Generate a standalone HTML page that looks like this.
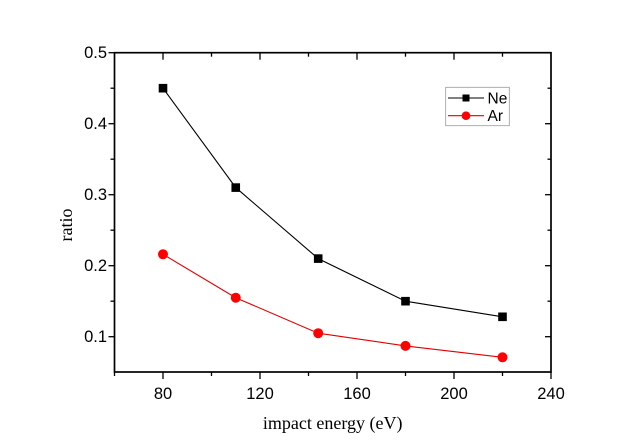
<!DOCTYPE html>
<html>
<head>
<meta charset="utf-8">
<style>
html,body{margin:0;padding:0;background:#fff;}
svg{display:block;}
.tl{font-family:"Liberation Sans",Arial,sans-serif;font-size:16.5px;fill:#000;}
.tt{font-family:"Liberation Serif","Times New Roman",serif;font-size:18px;fill:#000;}
</style>
</head>
<body>
<svg width="640" height="447" viewBox="0 0 640 447" xmlns="http://www.w3.org/2000/svg">
<rect x="0" y="0" width="640" height="447" fill="#fff"/>
<!-- ticks -->
<g stroke="#000" stroke-width="1.3" fill="none">
  <!-- bottom major (outward) -->
  <line x1="163" y1="372" x2="163" y2="379"/>
  <line x1="260" y1="372" x2="260" y2="379"/>
  <line x1="357" y1="372" x2="357" y2="379"/>
  <line x1="454" y1="372" x2="454" y2="379"/>
  <line x1="551" y1="372" x2="551" y2="379"/>
  <!-- bottom minor -->
  <line x1="114.5" y1="372" x2="114.5" y2="376"/>
  <line x1="211.5" y1="372" x2="211.5" y2="376"/>
  <line x1="308.5" y1="372" x2="308.5" y2="376"/>
  <line x1="405.5" y1="372" x2="405.5" y2="376"/>
  <line x1="502.5" y1="372" x2="502.5" y2="376"/>
  <!-- top major (inward) -->
  <line x1="163" y1="52.7" x2="163" y2="59.7"/>
  <line x1="260" y1="52.7" x2="260" y2="59.7"/>
  <line x1="357" y1="52.7" x2="357" y2="59.7"/>
  <line x1="454" y1="52.7" x2="454" y2="59.7"/>
  <!-- top minor -->
  <line x1="211.5" y1="52.7" x2="211.5" y2="56.7"/>
  <line x1="308.5" y1="52.7" x2="308.5" y2="56.7"/>
  <line x1="405.5" y1="52.7" x2="405.5" y2="56.7"/>
  <line x1="502.5" y1="52.7" x2="502.5" y2="56.7"/>
  <!-- left major (outward) -->
  <line x1="114.5" y1="52.7" x2="108.5" y2="52.7"/>
  <line x1="114.5" y1="123.7" x2="108.5" y2="123.7"/>
  <line x1="114.5" y1="194.7" x2="108.5" y2="194.7"/>
  <line x1="114.5" y1="265.7" x2="108.5" y2="265.7"/>
  <line x1="114.5" y1="336.7" x2="108.5" y2="336.7"/>
  <!-- left minor -->
  <line x1="114.5" y1="88.2" x2="110.5" y2="88.2"/>
  <line x1="114.5" y1="159.2" x2="110.5" y2="159.2"/>
  <line x1="114.5" y1="230.2" x2="110.5" y2="230.2"/>
  <line x1="114.5" y1="301.2" x2="110.5" y2="301.2"/>
  <!-- right major (inward) -->
  <line x1="551" y1="123.7" x2="545" y2="123.7"/>
  <line x1="551" y1="194.7" x2="545" y2="194.7"/>
  <line x1="551" y1="265.7" x2="545" y2="265.7"/>
  <line x1="551" y1="336.7" x2="545" y2="336.7"/>
  <!-- right minor -->
  <line x1="551" y1="88.2" x2="547.5" y2="88.2"/>
  <line x1="551" y1="159.2" x2="547.5" y2="159.2"/>
  <line x1="551" y1="230.2" x2="547.5" y2="230.2"/>
  <line x1="551" y1="301.2" x2="547.5" y2="301.2"/>
</g>
<!-- frame -->
<rect x="114.5" y="52.7" width="436.5" height="319.3" fill="none" stroke="#000" stroke-width="1.7"/>

<!-- y tick labels -->
<g class="tl" text-anchor="end">
  <text x="107" y="58">0.5</text>
  <text x="107" y="129">0.4</text>
  <text x="107" y="200">0.3</text>
  <text x="107" y="271">0.2</text>
  <text x="107" y="342">0.1</text>
</g>
<!-- x tick labels -->
<g class="tl" text-anchor="middle">
  <text x="163" y="399">80</text>
  <text x="260" y="399">120</text>
  <text x="357" y="399">160</text>
  <text x="454" y="399">200</text>
  <text x="551" y="399">240</text>
</g>
<!-- axis titles -->
<text class="tt" x="332.7" y="429" text-anchor="middle">impact energy (eV)</text>
<text class="tt" x="0" y="0" text-anchor="middle" transform="translate(72,225) rotate(-90)">ratio</text>

<!-- Ne series -->
<polyline points="163,88.2 235.75,187.6 318.2,258.6 405.5,301.2 502.5,316.8" fill="none" stroke="#000" stroke-width="1.1"/>
<g fill="#000">
  <rect x="158.7" y="83.9" width="8.6" height="8.6"/>
  <rect x="231.45" y="183.3" width="8.6" height="8.6"/>
  <rect x="313.9" y="254.3" width="8.6" height="8.6"/>
  <rect x="401.2" y="296.9" width="8.6" height="8.6"/>
  <rect x="498.2" y="312.5" width="8.6" height="8.6"/>
</g>
<!-- Ar series -->
<polyline points="163,254.3 235.75,297.7 318.2,333.2 405.5,345.9 502.5,357.3" fill="none" stroke="#e00000" stroke-width="1.1"/>
<g fill="#ff0000">
  <circle cx="163" cy="254.3" r="5"/>
  <circle cx="235.75" cy="297.7" r="5"/>
  <circle cx="318.2" cy="333.2" r="5"/>
  <circle cx="405.5" cy="345.9" r="5"/>
  <circle cx="502.5" cy="357.3" r="5"/>
</g>

<!-- legend -->
<rect x="445.7" y="87.3" width="63.6" height="38.4" fill="#fff" stroke="#999" stroke-width="0.8"/>
<line x1="448" y1="98" x2="484" y2="98" stroke="#000" stroke-width="1.1"/>
<rect x="462.5" y="94.5" width="7" height="7" fill="#000"/>
<line x1="448" y1="115.7" x2="484" y2="115.7" stroke="#e00000" stroke-width="1.1"/>
<circle cx="466" cy="115.7" r="4.3" fill="#ff0000"/>
<g class="tl" style="font-size:15.5px">
  <text x="487.5" y="103.5">Ne</text>
  <text x="487.5" y="121">Ar</text>
</g>
</svg>
</body>
</html>
